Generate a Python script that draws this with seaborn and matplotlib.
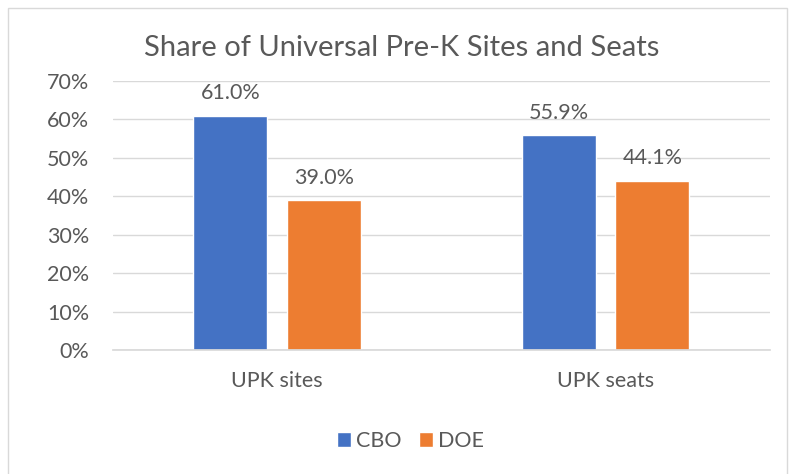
import numpy as np
import pandas as pd
import seaborn as sns
import matplotlib.pyplot as plt
from matplotlib.patches import Rectangle
from matplotlib.ticker import PercentFormatter

categories = ['UPK sites', 'UPK seats']
groups = ['CBO', 'DOE']
cbo_share = [61.0, 55.9]
doe_share = [39.0, 44.1]

df = pd.DataFrame({
    'category': categories * 2,
    'group': ['CBO'] * len(categories) + ['DOE'] * len(categories),
    'share': cbo_share + doe_share,
})

sns.set_theme(style='white')
plt.rcParams['font.family'] = ['Lato', 'DejaVu Sans']
text_col = '#595959'
fs = 15.5

fig = plt.figure(figsize=(8.04, 4.74), dpi=100)
ax = fig.add_axes([0.1405, 0.2616, 0.817, 0.5675])

sns.barplot(data=df, x='category', y='share', hue='group', hue_order=groups,
            palette={'CBO': '#4472C4', 'DOE': '#ED7D31'}, width=0.57, gap=0.21,
            saturation=1, ax=ax, legend=True)

for cont in ax.containers:
    ax.bar_label(cont, fmt='%.1f%%', padding=9, fontsize=fs, color=text_col)

ax.set_ylim(0, 70)
ax.set_yticks(np.arange(0, 71, 10))
ax.yaxis.set_major_formatter(PercentFormatter(decimals=0))
ax.grid(axis='y', color='#D9D9D9', linewidth=1)
ax.set_axisbelow(True)
for s in ['top', 'right', 'left']:
    ax.spines[s].set_visible(False)
ax.spines['bottom'].set_color('#D9D9D9')
ax.tick_params(axis='y', labelsize=fs, labelcolor=text_col, pad=17, length=0)
ax.tick_params(axis='x', labelsize=fs, labelcolor=text_col, pad=15, length=0)
ax.set_xlabel('')
ax.set_ylabel('')

ax.legend(loc='center', bbox_to_anchor=(0.453, -0.338), ncol=2, frameon=False,
          fontsize=fs, labelcolor=text_col, handlelength=0.65, handleheight=0.65,
          handletextpad=0.25, columnspacing=0.8)

fig.text(0.5, 0.899, 'Share of Universal Pre-K Sites and Seats', ha='center', va='center',
         fontsize=21, color=text_col)

fig.add_artist(Rectangle((8 / 804, -0.05), 779 / 804, 1.05 - 8 / 474,
                         transform=fig.transFigure, fill=False,
                         edgecolor='#D9D9D9', linewidth=1))

fig.savefig('out.png', dpi=100, facecolor='white')
